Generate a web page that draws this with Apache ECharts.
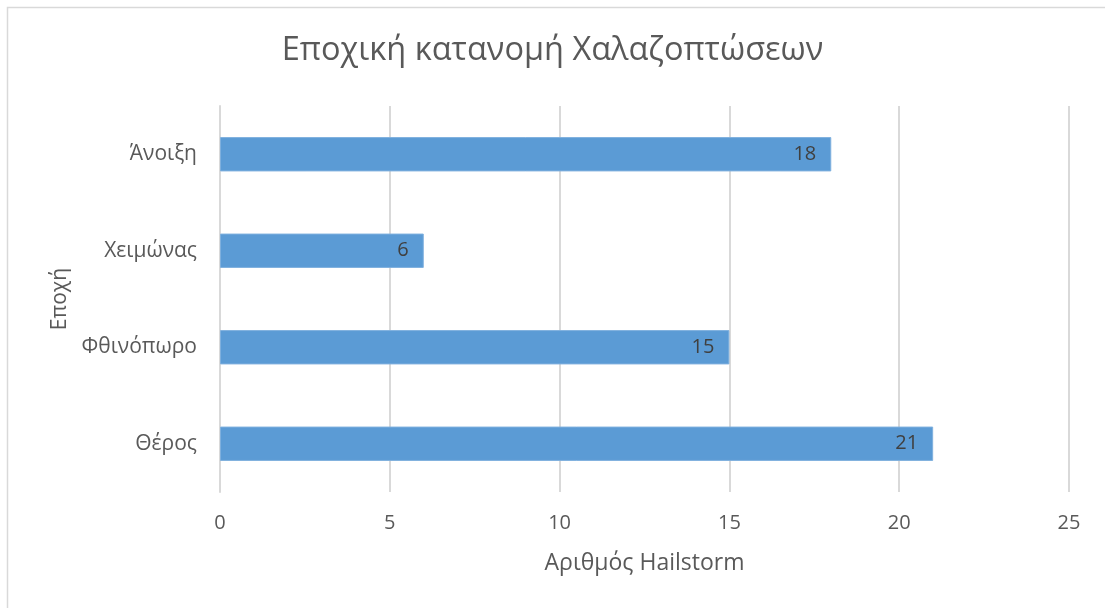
<!DOCTYPE html>
<html>
<head>
<meta charset="utf-8">
<script src="https://cdn.jsdelivr.net/npm/echarts@6/dist/echarts.min.js"></script>
<style>
  html, body { margin: 0; padding: 0; background: #fff; }
  #chart { width: 1105px; height: 608px; }
</style>
</head>
<body>
<div id="chart"></div>
<script>
// Seasonal distribution of hailstorms
const seasons = ['Θέρος', 'Φθινόπωρο', 'Χειμώνας', 'Άνοιξη'];
const hailCounts = [21, 15, 6, 18];
const xTicks = [0, 5, 10, 15, 20, 25];

const FONT = '"Open Sans", "Noto Sans", sans-serif';
const chart = echarts.init(document.getElementById('chart'));

chart.setOption({
  backgroundColor: '#ffffff',
  animation: false,
  title: {
    text: 'Εποχική κατανομή Χαλαζοπτώσεων',
    left: 'center',
    top: 29,
    textStyle: { fontFamily: FONT, fontSize: 32.5, fontWeight: 'normal', color: '#595959' }
  },
  graphic: [{
    type: 'rect',
    shape: { x: 7.5, y: 7.5, width: 1200, height: 700 },
    style: { fill: 'none', stroke: '#d9d9d9', lineWidth: 1.5 },
    silent: true
  }],
  grid: { left: 220, right: 36, top: 106, bottom: 116 },
  xAxis: {
    type: 'value',
    min: xTicks[0],
    max: xTicks[xTicks.length - 1],
    interval: xTicks[1] - xTicks[0],
    name: 'Αριθμός Hailstorm',
    nameLocation: 'middle',
    nameGap: 60,
    nameTextStyle: { fontFamily: FONT, fontSize: 23, color: '#595959' },
    axisLine: { show: false },
    axisTick: { show: false },
    axisLabel: { fontFamily: FONT, fontSize: 20, color: '#595959', margin: 21 },
    splitLine: { show: true, lineStyle: { color: '#d9d9d9', width: 2 } }
  },
  yAxis: {
    type: 'category',
    data: seasons,
    name: 'Εποχή',
    nameLocation: 'middle',
    nameGap: 148,
    nameRotate: 90,
    nameTextStyle: { fontFamily: FONT, fontSize: 21, color: '#595959' },
    axisLine: { show: true, lineStyle: { color: '#d9d9d9', width: 2 } },
    axisTick: { show: false },
    axisLabel: { fontFamily: FONT, fontSize: 21, color: '#595959', margin: 23 },
    splitLine: { show: false }
  },
  series: [{
    type: 'bar',
    data: hailCounts,
    barWidth: '35.6%',
    itemStyle: { color: '#5b9bd5', borderColor: '#7fb0de', borderWidth: 1 },
    label: {
      show: true,
      position: 'insideRight',
      distance: 15,
      fontFamily: FONT,
      fontSize: 20,
      color: '#404040'
    }
  }]
});
</script>
</body>
</html>
